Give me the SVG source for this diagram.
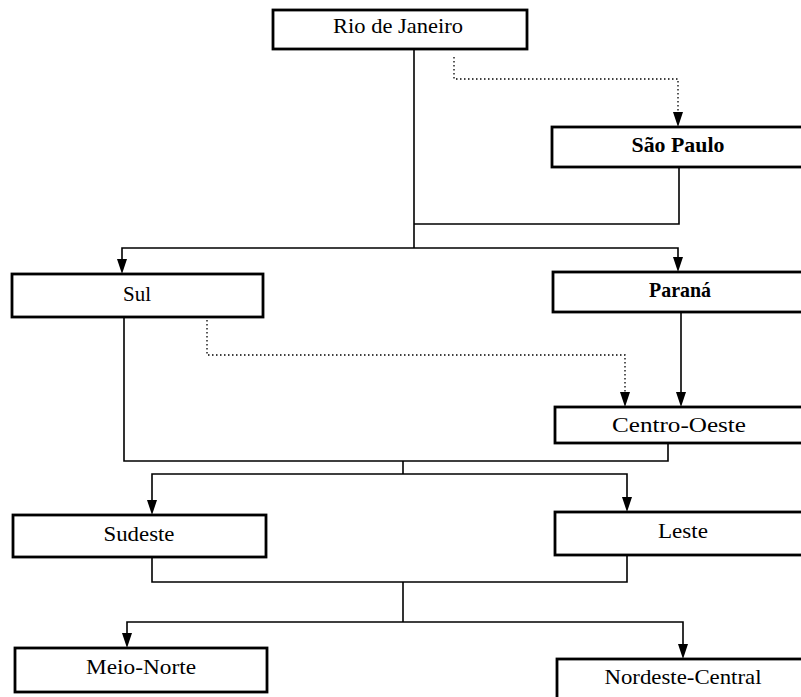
<svg xmlns="http://www.w3.org/2000/svg" width="801" height="697" viewBox="0 0 801 697">
<style>
.box{fill:#fff;stroke:#000;stroke-width:2.8}
.lbl{font-family:"Liberation Serif","Times New Roman",serif;font-size:22px;fill:#000;text-anchor:middle}
.ln{fill:none;stroke:#000;stroke-width:1.6}
.dot{fill:none;stroke:#000;stroke-width:1.3;stroke-dasharray:1.5 2.5}
</style>
<defs>
<marker id="ah" markerUnits="userSpaceOnUse" markerWidth="12" markerHeight="16" viewBox="0 0 12 16" refX="6" refY="15" orient="auto-start-reverse">
<path d="M1,0 L11,0 L6,15 Z" fill="#000"/>
</marker>
<marker id="ahd" markerUnits="userSpaceOnUse" markerWidth="12" markerHeight="16" viewBox="0 0 12 16" refX="6" refY="15" orient="0">
<path d="M1,0 L11,0 L6,15 Z" fill="#000"/>
</marker>
</defs>
<rect width="801" height="697" fill="#fff"/>
<g id="connectors">
<path class="ln" d="M414,50 V248"/>
<path class="dot" d="M454,57 V79 H678 V113"/>
<path d="M673,112 L683,112 L678,127 Z" fill="#000"/>
<path class="ln" d="M679,167 V224 H414"/>
<path class="ln" d="M122,260 V248 H678 V258"/>
<path d="M117,259 L127,259 L122,274 Z" fill="#000"/>
<path d="M673,257 L683,257 L678,272 Z" fill="#000"/>
<path class="ln" d="M681,312 V393"/>
<path d="M676,392 L686,392 L681,407 Z" fill="#000"/>
<path class="dot" d="M207,320 V355 H625 V393"/>
<path d="M620,392 L630,392 L625,407 Z" fill="#000"/>
<path class="ln" d="M124,317 V461 H668 V443"/>
<path class="ln" d="M403,461 V474"/>
<path class="ln" d="M152,501 V474 H627 V498"/>
<path d="M147,500 L157,500 L152,515 Z" fill="#000"/>
<path d="M622,497 L632,497 L627,512 Z" fill="#000"/>
<path class="ln" d="M152,557 V582 H627 V555"/>
<path class="ln" d="M403,582 V622"/>
<path class="ln" d="M127,634 V622 H683 V645"/>
<path d="M122,633 L132,633 L127,648 Z" fill="#000"/>
<path d="M678,644 L688,644 L683,659 Z" fill="#000"/>
</g>
<g id="rio"><rect class="box" x="273" y="10" width="254" height="39"/><text class="lbl" x="398" y="33" textLength="130" lengthAdjust="spacingAndGlyphs">Rio de Janeiro</text></g>
<g id="saopaulo"><rect class="box" x="552" y="127" width="260" height="40"/><text class="lbl" x="678" y="152" textLength="93" lengthAdjust="spacingAndGlyphs" font-weight="bold">São Paulo</text></g>
<g id="sul"><rect class="box" x="12" y="274" width="251" height="43"/><text class="lbl" x="137" y="301" textLength="28" lengthAdjust="spacingAndGlyphs">Sul</text></g>
<g id="parana"><rect class="box" x="553" y="272" width="260" height="40"/><text class="lbl" x="680" y="297" textLength="62" lengthAdjust="spacingAndGlyphs" font-weight="bold">Paraná</text></g>
<g id="centrooeste"><rect class="box" x="555" y="407" width="260" height="36"/><text class="lbl" x="679" y="432" textLength="134" lengthAdjust="spacingAndGlyphs">Centro-Oeste</text></g>
<g id="sudeste"><rect class="box" x="13" y="515" width="253" height="42"/><text class="lbl" x="139" y="541" textLength="71" lengthAdjust="spacingAndGlyphs">Sudeste</text></g>
<g id="leste"><rect class="box" x="555" y="512" width="260" height="43"/><text class="lbl" x="683" y="538" textLength="50" lengthAdjust="spacingAndGlyphs">Leste</text></g>
<g id="meionorte"><rect class="box" x="15" y="648" width="252" height="44"/><text class="lbl" x="141" y="674" textLength="110" lengthAdjust="spacingAndGlyphs">Meio-Norte</text></g>
<g id="nordestecentral"><rect class="box" x="557" y="659" width="260" height="60"/><text class="lbl" x="683" y="684" textLength="157" lengthAdjust="spacingAndGlyphs">Nordeste-Central</text></g>
</svg>
